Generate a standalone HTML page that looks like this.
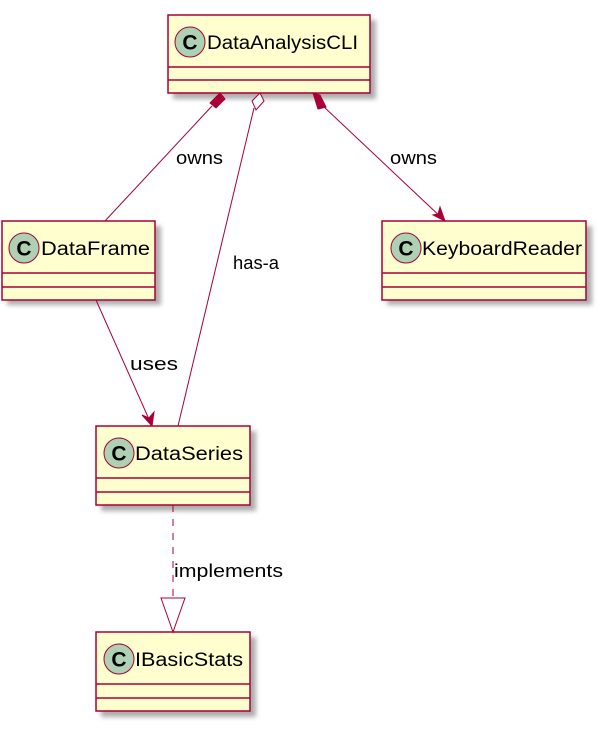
<!DOCTYPE html>
<html><head><meta charset="utf-8"><style>
html,body{margin:0;padding:0;background:#fff;}
svg{display:block;}
text{font-family:"Liberation Sans",sans-serif;}
</style></head><body>
<svg width="604" height="730" viewBox="0 0 604 730" xmlns="http://www.w3.org/2000/svg">
<defs>
<filter id="sh" x="-10%" y="-10%" width="130%" height="130%"><feGaussianBlur stdDeviation="2.5"/></filter>
<g id="circ"><circle r="15" fill="#ADD1B2" stroke="#A80036" stroke-width="1"/></g>
</defs>
<g fill="#999" opacity="0.8" filter="url(#sh)">
<rect x="173" y="20" width="203" height="79"/>
<rect x="7" y="226" width="154" height="79"/>
<rect x="387" y="226" width="205" height="79"/>
<rect x="101" y="431" width="155" height="80"/>
<rect x="101" y="637" width="155" height="80"/>
</g>
<g fill="#FEFECE" stroke="#A80036" stroke-width="1.5">
<rect x="168" y="15" width="202" height="78"/>
<line x1="168" y1="67" x2="370" y2="67"/><line x1="168" y1="80" x2="370" y2="80"/>
<rect x="2" y="221" width="153" height="79"/>
<line x1="2" y1="273" x2="155" y2="273"/><line x1="2" y1="287" x2="155" y2="287"/>
<rect x="382" y="221" width="204" height="79"/>
<line x1="382" y1="273" x2="586" y2="273"/><line x1="382" y1="287" x2="586" y2="287"/>
<rect x="96" y="426" width="154" height="79"/>
<line x1="96" y1="478" x2="250" y2="478"/><line x1="96" y1="492" x2="250" y2="492"/>
<rect x="96" y="632" width="154" height="79"/>
<line x1="96" y1="684" x2="250" y2="684"/><line x1="96" y1="698" x2="250" y2="698"/>
</g>
<g>
<use href="#circ" x="190" y="42"/><use href="#circ" x="24" y="248"/><use href="#circ" x="406" y="248"/>
<use href="#circ" x="119" y="453"/><use href="#circ" x="119" y="659"/>
</g>
<g font-size="21" font-weight="bold" text-anchor="middle" fill="#000">
<text x="190" y="49.5">C</text><text x="24" y="255.5">C</text><text x="406" y="255.5">C</text>
<text x="119" y="460.5">C</text><text x="119" y="666.5">C</text>
</g>
<g font-size="19" fill="#000">
<text x="207" y="49" textLength="151" lengthAdjust="spacingAndGlyphs">DataAnalysisCLI</text>
<text x="41" y="255" textLength="109" lengthAdjust="spacingAndGlyphs">DataFrame</text>
<text x="422" y="255" textLength="160" lengthAdjust="spacingAndGlyphs">KeyboardReader</text>
<text x="135" y="460" textLength="108" lengthAdjust="spacingAndGlyphs">DataSeries</text>
<text x="135" y="666" textLength="108" lengthAdjust="spacingAndGlyphs">IBasicStats</text>
</g>
<g stroke="#A80036" stroke-width="1" fill="none">
<line x1="212" y1="106" x2="105" y2="221"/>
<line x1="254" y1="108" x2="178" y2="426"/>
<line x1="323" y1="106" x2="445" y2="221"/>
<line x1="96" y1="300" x2="152" y2="426"/>
<line x1="173" y1="505" x2="173" y2="598" stroke-dasharray="7,7"/>
</g>
<g stroke="#A80036" stroke-width="1">
<polygon points="220,93 225,99 216,108 210,103" fill="#A80036"/>
<polygon points="260,93 264,101 256,110 252,101" fill="#fff"/>
<polygon points="313,93 320,95 326,107 318,109" fill="#A80036"/>
<polygon points="445,221 433,215 438,214 440,207" fill="#A80036"/>
<polygon points="152,426 142,415 149,418 154,412" fill="#A80036"/>
<polygon points="161,598 185,598 173,632" fill="#fff"/>
</g>
<g font-size="18" fill="#000">
<text x="176" y="164" textLength="47" lengthAdjust="spacingAndGlyphs">owns</text>
<text x="233" y="269" font-size="18" textLength="46" lengthAdjust="spacingAndGlyphs">has-a</text>
<text x="390" y="164" textLength="47" lengthAdjust="spacingAndGlyphs">owns</text>
<text x="130" y="370" textLength="48" lengthAdjust="spacingAndGlyphs">uses</text>
<text x="174" y="577" textLength="109" lengthAdjust="spacingAndGlyphs">implements</text>
</g>
</svg>
</body></html>
